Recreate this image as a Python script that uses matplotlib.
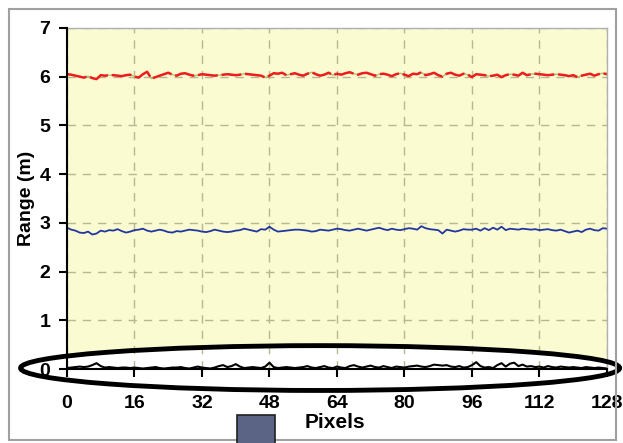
import matplotlib
matplotlib.use("Agg")
from matplotlib import pyplot as plt
from matplotlib.patches import Ellipse, Rectangle
import numpy as np

plt.rcParams['font.family'] = ['Liberation Sans', 'DejaVu Sans']
plt.rcParams['font.weight'] = 'bold'

pixels = np.arange(129)

far_range = [
    6.05, 6.04, 6.02, 6.00, 5.98, 6.01, 5.97, 5.95, 6.03, 6.02,
    6.03, 6.03, 6.02, 6.01, 6.03, 6.04, 6.00, 5.98, 6.05, 6.10,
    5.96, 5.99, 6.02, 6.05, 6.08, 6.04, 6.02, 6.06, 6.07, 6.04,
    6.02, 6.03, 6.05, 6.04, 6.03, 6.02, 6.03, 6.04, 6.05, 6.04,
    6.03, 6.04, 6.06, 6.05, 6.04, 6.03, 6.02, 5.98, 6.02, 6.07,
    6.06, 6.08, 6.03, 6.05, 6.07, 6.04, 6.02, 6.06, 6.09, 6.05,
    6.02, 6.04, 6.08, 6.03, 6.06, 6.04, 6.07, 6.09, 6.06, 6.04,
    6.07, 6.08, 6.05, 6.02, 6.05, 6.06, 6.04, 6.01, 6.05, 6.07,
    6.04, 6.01, 6.06, 6.05, 6.09, 6.03, 6.05, 6.08, 6.03, 6.00,
    6.06, 6.08, 6.04, 6.02, 6.06, 6.04, 5.99, 6.05, 6.04, 6.03,
    6.01, 6.02, 6.04, 5.99, 6.03, 6.05, 6.04, 6.02, 6.08, 6.03,
    6.05, 6.06, 6.05, 6.04, 6.03, 6.04, 6.05, 6.04, 6.03, 6.01,
    6.03, 5.99, 6.02, 6.04, 6.06, 6.02, 6.05, 6.07, 6.05,
]

mid_range = [
    2.90, 2.86, 2.84, 2.80, 2.79, 2.82, 2.76, 2.78, 2.84, 2.82,
    2.85, 2.84, 2.87, 2.83, 2.80, 2.82, 2.85, 2.86, 2.88, 2.84,
    2.82, 2.84, 2.86, 2.84, 2.81, 2.80, 2.83, 2.82, 2.84, 2.86,
    2.85, 2.84, 2.82, 2.81, 2.83, 2.86, 2.84, 2.82, 2.81, 2.82,
    2.84, 2.85, 2.88, 2.86, 2.84, 2.82, 2.87, 2.86, 2.92, 2.86,
    2.82, 2.83, 2.84, 2.85, 2.86, 2.86, 2.85, 2.84, 2.82, 2.83,
    2.86, 2.85, 2.84, 2.86, 2.88, 2.87, 2.85, 2.84, 2.86, 2.88,
    2.86, 2.84, 2.86, 2.88, 2.90, 2.87, 2.85, 2.88, 2.86, 2.85,
    2.87, 2.89, 2.88, 2.86, 2.93, 2.89, 2.87, 2.86, 2.85, 2.78,
    2.86, 2.84, 2.82, 2.84, 2.87, 2.86, 2.86, 2.88, 2.84, 2.89,
    2.85, 2.90, 2.86, 2.92, 2.85, 2.88, 2.87, 2.86, 2.88, 2.87,
    2.86, 2.87, 2.85, 2.86, 2.87, 2.85, 2.84, 2.86, 2.83, 2.80,
    2.82, 2.84, 2.81, 2.86, 2.88, 2.85, 2.84, 2.89, 2.88,
]

error = [
    0.02, 0.03, 0.04, 0.05, 0.04, 0.05, 0.08, 0.12, 0.06, 0.03,
    0.04, 0.03, 0.02, 0.03, 0.03, 0.02, 0.03, 0.02, 0.01, 0.02,
    0.03, 0.04, 0.02, 0.01, 0.02, 0.03, 0.03, 0.04, 0.02, 0.01,
    0.03, 0.05, 0.03, 0.02, 0.01, 0.03, 0.06, 0.08, 0.04, 0.06,
    0.10, 0.05, 0.02, 0.03, 0.04, 0.03, 0.02, 0.05, 0.13, 0.04,
    0.02, 0.03, 0.04, 0.03, 0.02, 0.03, 0.04, 0.06, 0.03, 0.02,
    0.04, 0.06, 0.03, 0.02, 0.05, 0.03, 0.02, 0.06, 0.08, 0.05,
    0.03, 0.05, 0.07, 0.04, 0.03, 0.06, 0.04, 0.02, 0.05, 0.04,
    0.03, 0.05, 0.06, 0.07, 0.05, 0.04, 0.06, 0.09, 0.08, 0.07,
    0.08, 0.05, 0.04, 0.06, 0.03, 0.04, 0.08, 0.14, 0.06, 0.03,
    0.04, 0.02, 0.08, 0.12, 0.05, 0.11, 0.13, 0.06, 0.09, 0.05,
    0.06, 0.04, 0.05, 0.03, 0.06, 0.04, 0.03, 0.05, 0.04, 0.03,
    0.04, 0.03, 0.02, 0.04, 0.03, 0.02, 0.03, 0.02, 0.01,
]

x_ticks = [0, 16, 32, 48, 64, 80, 96, 112, 128]
y_ticks = [0, 1, 2, 3, 4, 5, 6, 7]

fig = plt.figure(figsize=(6.23, 4.43), dpi=100)
ax = fig.add_axes([0.1075, 0.167, 0.8668, 0.770])
ax.set_facecolor('#fbfbd2')

# outer frame of the figure
fig.patches.append(Rectangle((0.015, 0.007), 0.974, 0.973, transform=fig.transFigure,
                             fill=False, edgecolor='#a0a0a0', lw=1.5))

ax.set_axisbelow(True)
ax.grid(True, ls=(0, (6, 5)), color='#b8b890', lw=1.0)

# white inside of the highlight ellipse goes under grid/ticks, outline on top
ax.add_patch(Ellipse((60, 0.02), 142, 0.92, facecolor='white', edgecolor='none',
                     clip_on=False, zorder=0.3))
ax.add_patch(Ellipse((60, 0.02), 142, 0.92, facecolor='none', edgecolor='black',
                     lw=3.5, clip_on=False, zorder=4))

ax.plot(pixels, far_range, color='#b0c070', lw=1.0, zorder=2)
ax.plot(pixels, far_range, color='#ee1c1c', lw=1.8, dashes=(8, 1.5), zorder=2.1)
ax.plot(pixels, mid_range, color='#2236a0', lw=1.3, zorder=2)
ax.plot(pixels, error, color='black', lw=1.5, zorder=2)

ax.set_xlim(0, 128)
ax.set_ylim(0, 7)
ax.set_xticks(x_ticks)
ax.set_yticks(y_ticks)
ax.tick_params(axis='both', labelsize=14, direction='out', length=6, width=1.5)
ax.tick_params(axis='x', pad=13)
ax.tick_params(axis='y', pad=6)

for side in ['left', 'bottom']:
    ax.spines[side].set_linewidth(1.5)
    ax.spines[side].set_zorder(3)
for side in ['top', 'right']:
    ax.spines[side].set_color('#b0b0b0')
    ax.spines[side].set_linewidth(1.0)

ax.set_ylabel('Range (m)', fontsize=14, fontweight='bold', labelpad=3)
fig.text(0.538, 0.046, 'Pixels', fontsize=15, fontweight='bold', ha='center', va='center')

# legend swatch cut at the bottom edge
fig.patches.append(Rectangle((0.381, -0.02), 0.061, 0.083, transform=fig.transFigure,
                             facecolor='#5c6486', edgecolor='#202020', lw=1.2))

fig.savefig('out.png', dpi=100)
